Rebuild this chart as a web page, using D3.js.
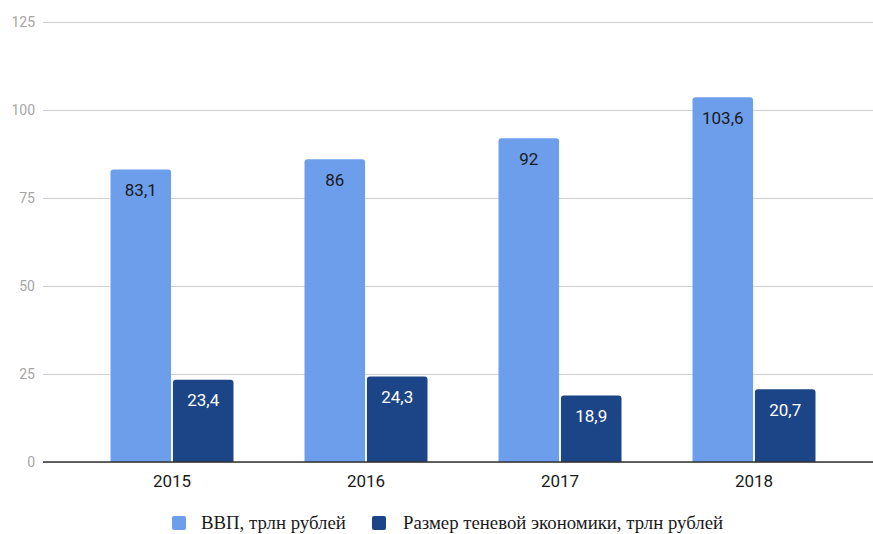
<!DOCTYPE html>
<html><head><meta charset="utf-8">
<script src="https://cdn.jsdelivr.net/npm/d3@7"></script>
<style>body{margin:0;background:#fff}svg{display:block}</style>
</head><body>
<svg id="chart" width="873" height="534"></svg>
<script>
const years = ["2015", "2016", "2017", "2018"];
const seriesNames = ["ВВП, трлн рублей", "Размер теневой экономики, трлн рублей"];
const gdp = [83.1, 86, 92, 103.6];
const shadow = [23.4, 24.3, 18.9, 20.7];
const colors = ["#6d9eeb", "#1c4587"];
const labelColors = ["#1a1a1a", "#ffffff"];
const yTicks = [0, 25, 50, 75, 100, 125];

const seriesValues = [gdp, shadow];
const svg = d3.select("#chart");
const gridLeft = 43, gridRight = 873;

const y = d3.scaleLinear().domain([0, 125]).range([462, 22]);
const x0 = d3.scaleBand().domain(years).range([75, 851]).paddingInner(0.366).paddingOuter(0.183);
const x1 = d3.scaleBand().domain(d3.range(seriesNames.length)).range([0, x0.bandwidth()]).paddingInner(0.03);

// gridlines
const yAxis = d3.axisLeft(y).tickValues(yTicks).tickSize(-(gridRight - gridLeft)).tickPadding(8);
const gy = svg.append("g").attr("transform", `translate(${gridLeft},0)`).call(yAxis);
gy.select(".domain").remove();
gy.selectAll(".tick line").attr("stroke", "#d0d0d0").attr("stroke-width", 1);
gy.selectAll(".tick text").attr("fill", "#a6a6a6").attr("font-family", "Roboto, sans-serif").attr("font-size", 14);

// bars
function topRounded(xp, yp, w, h, r) {
  r = Math.min(r, h, w / 2);
  return `M${xp},${yp + h}V${yp + r}Q${xp},${yp} ${xp + r},${yp}H${xp + w - r}Q${xp + w},${yp} ${xp + w},${yp + r}V${yp + h}Z`;
}
years.forEach((yr, i) => {
  const g = svg.append("g").attr("transform", `translate(${x0(yr)},0)`);
  seriesValues.forEach((vals, s) => {
    const v = vals[i];
    const bx = x1(s), bw = x1.bandwidth();
    const top = y(v), h = y(0) - y(v);
    g.append("path").attr("d", topRounded(bx, top, bw, h, 3)).attr("fill", colors[s]);
    g.append("text").attr("x", bx + bw / 2).attr("y", top + 26.5)
      .attr("text-anchor", "middle").attr("fill", labelColors[s])
      .attr("font-family", "Roboto, sans-serif").attr("font-size", 17)
      .text(String(v).replace(".", ","));
  });
});

// baseline
svg.append("line").attr("x1", gridLeft).attr("x2", gridRight).attr("y1", y(0)).attr("y2", y(0))
  .attr("stroke", "#333").attr("stroke-width", 1.5);

// x axis labels
const xAxis = d3.axisBottom(x0).tickSize(0).tickPadding(13);
const gx = svg.append("g").attr("transform", `translate(0,${y(0)})`).call(xAxis);
gx.select(".domain").remove();
gx.selectAll(".tick text").attr("fill", "#1a1a1a").attr("font-family", "Roboto, sans-serif").attr("font-size", 17);

// legend
const legendItems = [{x: 172, tx: 201}, {x: 372, tx: 403}];
seriesNames.forEach((name, s) => {
  svg.append("rect").attr("x", legendItems[s].x).attr("y", 516).attr("width", 14).attr("height", 14)
    .attr("rx", 2).attr("fill", colors[s]);
  svg.append("text").attr("x", legendItems[s].tx).attr("y", 529)
    .attr("font-family", "'Liberation Serif', 'Times New Roman', serif").attr("font-size", 18.8)
    .attr("fill", "#1a1a1a").text(name);
});
</script>
</body></html>
